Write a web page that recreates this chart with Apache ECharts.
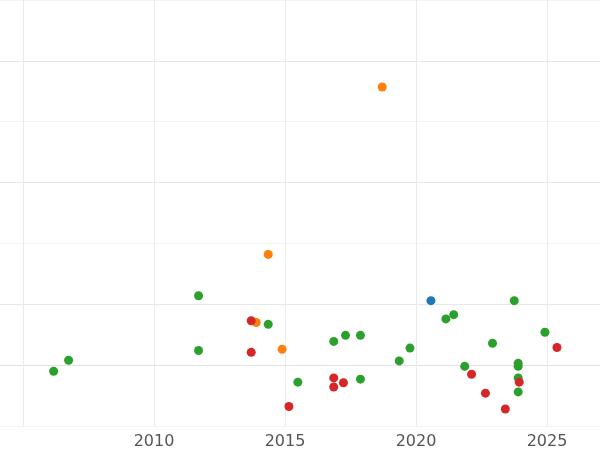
<!DOCTYPE html>
<html><head><meta charset="utf-8">
<script src="https://cdn.jsdelivr.net/npm/echarts@6/dist/echarts.min.js"></script>
<style>html,body{margin:0;padding:0;background:#fff;overflow:hidden;width:600px;height:450px;position:relative}#c{position:absolute;left:-111px;top:0;width:792px;height:450px}</style>
</head><body><div id="c"></div>
<script>
const greenPts = [[2006.17,-0.10],[2006.74,0.08],[2011.70,1.14],[2011.70,0.24],[2014.36,0.67],[2015.49,-0.28],[2016.86,0.39],[2017.31,0.49],[2017.88,0.49],[2017.88,-0.23],[2019.36,0.07],[2019.77,0.28],[2021.14,0.76],[2021.44,0.83],[2021.86,-0.02],[2022.92,0.36],[2023.75,1.06],[2023.90,0.03],[2023.90,-0.02],[2023.90,-0.21],[2023.90,-0.44],[2024.92,0.54]];
const orangePts = [[2018.71,4.57],[2014.36,1.82],[2013.90,0.70],[2014.89,0.26]];
const redPts = [[2013.71,0.73],[2013.71,0.21],[2015.15,-0.68],[2016.86,-0.21],[2016.86,-0.36],[2017.23,-0.29],[2022.12,-0.15],[2022.65,-0.46],[2023.41,-0.72],[2023.94,-0.28],[2025.38,0.29]];
const bluePts = [[2020.57,1.06]];
const shownYears = [2010,2015,2020,2025];

const chart = echarts.init(document.getElementById('c'));
const mk = (d,c)=>({type:'scatter',data:d,symbolSize:9,itemStyle:{color:c,opacity:1},silent:true});
chart.setOption({
  animation:false,
  grid:{left:0,right:0,top:-3,bottom:23,containLabel:false},
  xAxis:{type:'value',min:2000,max:2030,interval:5,
    axisLine:{show:false},axisTick:{show:false},
    axisLabel:{margin:8,fontSize:16,color:'#555',fontFamily:'DejaVu Sans',
      formatter:v=>shownYears.includes(v)?String(v):''},
    splitLine:{lineStyle:{color:'#ebebeb',width:1}}},
  yAxis:{type:'value',min:-1,max:6,interval:1,
    axisLine:{show:false},axisTick:{show:false},axisLabel:{show:false},
    splitLine:{lineStyle:{width:1.2,color:['#f3f3f3','#e3e3e3','#e8e8e8','#f3f3f3','#e8e8e8','#f3f3f3','#e8e8e8','#f3f3f3']}}},
  series:[mk(greenPts,'#2ca02c'),mk(orangePts,'#ff7f0e'),mk(redPts,'#d62728'),mk(bluePts,'#1f77b4')]
});
</script></body></html>
